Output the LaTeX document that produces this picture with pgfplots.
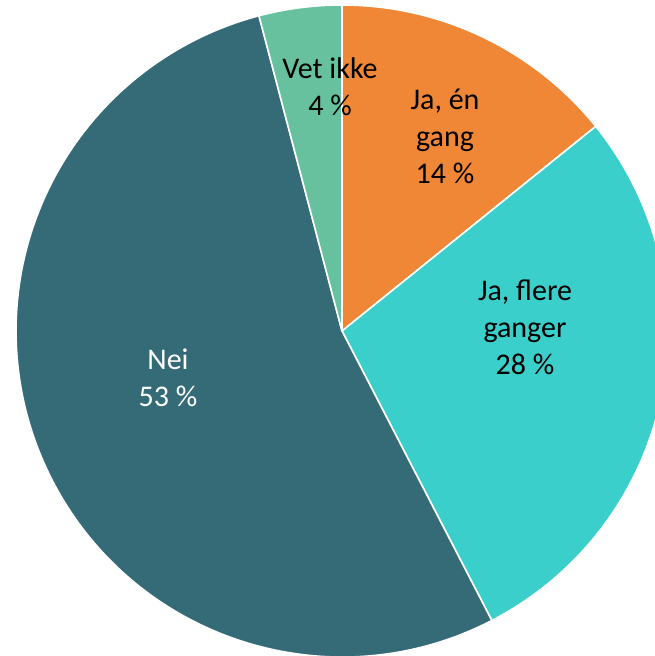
\documentclass[border=0pt]{standalone}
\usepackage{pgfplots}
\usepackage{pgfplotstable}
\pgfplotsset{compat=1.18}
\usepackage{fontspec}
\setmainfont{Carlito}

\definecolor{sl0}{HTML}{F08736}
\definecolor{sl1}{HTML}{3ACFCA}
\definecolor{sl2}{HTML}{356B77}
\definecolor{sl3}{HTML}{67C09E}

% share of each answer, clockwise from 12 o'clock
\pgfplotstableread{
value
14.2
28.2
53.5
4.1
}\piedata
\pgfplotstablecreatecol[create col/expr accum={\pgfmathaccuma+3.6*\thisrow{value}}{0}]{cum}\piedata

\begin{document}
\begin{tikzpicture}
\begin{axis}[
  scale only axis, width=655bp, height=656bp,
  xmin=-342, xmax=313, ymin=-325, ymax=331,
  hide axis, clip=true,
]
\pgfplotsforeachungrouped \i in {0,...,3}{%
  \pgfplotstablegetelem{\i}{cum}\of\piedata \let\cum\pgfplotsretval
  \pgfplotstablegetelem{\i}{value}\of\piedata \let\val\pgfplotsretval
  \pgfmathsetmacro\ea{90-\cum}%
  \pgfmathsetmacro\sa{\ea+3.6*\val}%
  \edef\cmd{\noexpand\fill[sl\i, draw=white, line width=1.6bp, line join=round]
    (axis cs:0,0) -- ++(\sa:326bp) arc[start angle=\sa, end angle=\ea, radius=326bp] -- cycle;}%
  \cmd
}
\begin{scope}[every node/.style={align=center, inner sep=0pt,
    font=\fontsize{30bp}{37bp}\selectfont}]
\node at (axis cs:103,195) {Ja, én\\gang\\14 \%};
\node at (axis cs:183,4) {Ja, flere\\ganger\\28 \%};
\node[white] at (axis cs:-174,-47) {Nei\\53 \%};
\node at (axis cs:-12,244) {Vet ikke\\4 \%};
\end{scope}
\end{axis}
\pgfresetboundingbox
\useasboundingbox (current axis.south west) rectangle (current axis.north east);
\end{tikzpicture}
\end{document}
